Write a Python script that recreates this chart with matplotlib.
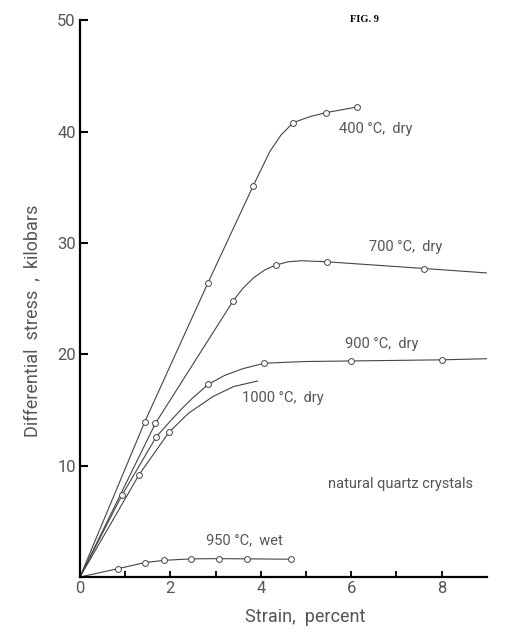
import matplotlib
matplotlib.use("Agg")
import matplotlib.pyplot as plt

plt.rcParams['font.family'] = ['Roboto', 'DejaVu Sans']

# traced curves (strain %, stress kbar); marked points given by index lists
strain_400 = [0, 1.43, 2.83, 3.83, 4.2, 4.45, 4.72, 5.1, 5.45, 6.13]
stress_400 = [0, 13.9, 26.4, 35.1, 38.2, 39.7, 40.8, 41.35, 41.7, 42.2]
marks_400 = [1, 2, 3, 6, 8, 9]

strain_700 = [0, 1.67, 3.39, 3.6, 3.85, 4.1, 4.33, 4.6, 4.9, 5.47, 7.62, 9.0]
stress_700 = [0, 13.8, 24.8, 25.9, 26.9, 27.6, 28.0, 28.3, 28.4, 28.3, 27.7, 27.3]
marks_700 = [1, 2, 6, 9, 10]

strain_900 = [0, 0.93, 1.69, 2.0, 2.25, 2.5, 2.84, 3.2, 3.6, 4.08, 5.0, 6.0, 8.0, 9.0]
stress_900 = [0, 7.35, 12.6, 14.0, 15.1, 16.1, 17.3, 18.1, 18.7, 19.2, 19.35, 19.4, 19.5, 19.6]
marks_900 = [1, 2, 6, 9, 11, 12]

strain_1000 = [0, 1.31, 1.97, 2.4, 2.94, 3.4, 3.93]
stress_1000 = [0, 9.2, 13.0, 14.7, 16.2, 17.1, 17.6]
marks_1000 = [1, 2]

strain_950 = [0, 0.84, 1.44, 1.87, 2.46, 3.08, 3.69, 4.66]
stress_950 = [0, 0.75, 1.3, 1.5, 1.63, 1.65, 1.63, 1.6]
marks_950 = [1, 2, 3, 4, 5, 6, 7]

labels = ['400 \u00b0C,  dry', '700 \u00b0C,  dry', '900 \u00b0C,  dry', '1000 \u00b0C,  dry', '950 \u00b0C,  wet']
label_x = [5.73, 6.39, 5.87, 3.58, 2.79]
label_y = [40.2, 29.65, 20.9, 16.05, 3.3]

fig = plt.figure(figsize=(5.06, 6.35), dpi=100)
ax = fig.add_axes([0.158, 0.0913, 0.804, 0.877])

tc = '#555555'
curves = [(strain_400, stress_400, marks_400), (strain_700, stress_700, marks_700),
          (strain_900, stress_900, marks_900), (strain_1000, stress_1000, marks_1000),
          (strain_950, stress_950, marks_950)]
for x, y, m in curves:
    ax.plot(x, y, color='#444444', lw=0.8, marker='o', markevery=m, ms=4.2,
            mfc='white', mec='#444444', mew=0.7)

for t, lx, ly in zip(labels, label_x, label_y):
    ax.text(lx, ly, t, fontsize=10.5, color=tc, ha='left', va='center')
ax.text(5.49, 8.33, 'natural quartz crystals', fontsize=10.5, color=tc, ha='left', va='center')

ax.set_xlim(0, 9)
ax.set_ylim(0, 50)
ax.spines['top'].set_visible(False)
ax.spines['right'].set_visible(False)
ax.spines['left'].set_linewidth(1.6)
ax.spines['bottom'].set_linewidth(1.6)

ax.set_xticks([0, 2, 4, 6, 8])
ax.set_xticks([1, 3, 5, 7], minor=True)
ax.set_yticks([10, 20, 30, 40, 50])
ax.tick_params(axis='y', direction='in', length=6, width=1.5, labelsize=12, labelcolor=tc, pad=3)
ax.tick_params(axis='x', which='both', direction='in', length=4, width=1.3, labelsize=12, labelcolor=tc, pad=3)

ax.set_xlabel('Strain,  percent', fontsize=13, color=tc)
ax.set_ylabel('Differential  stress  ,  kilobars', fontsize=13, color=tc)
ax.xaxis.set_label_coords(0.553, -0.056)
ax.yaxis.set_label_coords(-0.095, 0.46)

fig.text(0.72, 0.970, 'FIG. 9', fontsize=7.5, family='Liberation Serif', weight='bold',
         ha='center', va='center')

plt.savefig('out.png', dpi=100)
